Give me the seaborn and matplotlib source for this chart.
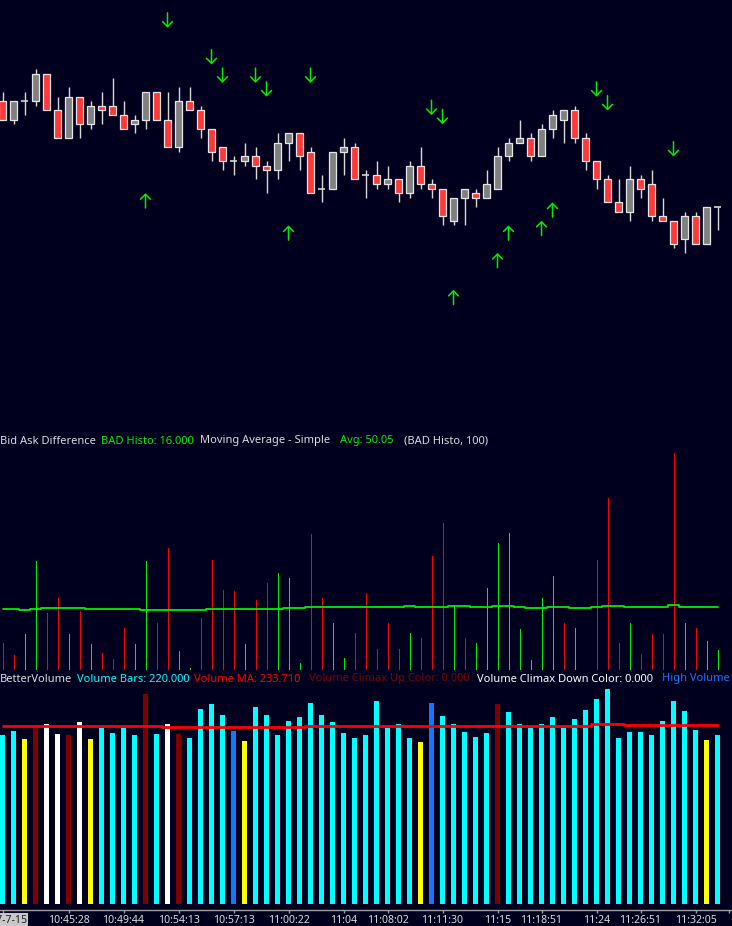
import numpy as np
import pandas as pd
import matplotlib
matplotlib.use('Agg')
import matplotlib.pyplot as plt
from matplotlib.patches import Rectangle
import seaborn as sns

# ---- price bars (0.25 tick) ----
opens = [2454.5, 2453.5, 2454.5, 2454.5, 2456.0, 2454.0, 2452.5, 2454.75, 2453.25, 2454.25,
         2454.25, 2453.75, 2453.25, 2453.5, 2455.0, 2453.5, 2452.0, 2454.5, 2454.0, 2453.0,
         2452.0, 2451.25, 2451.25, 2451.5, 2451.0, 2450.75, 2452.25, 2452.75, 2451.75, 2449.75,
         2449.75, 2451.75, 2452.0, 2450.5, 2450.5, 2450.0, 2450.25, 2449.5, 2451.0, 2450.0,
         2449.75, 2448.0, 2449.25, 2449.5, 2449.25, 2449.75, 2451.5, 2452.25, 2452.5, 2451.5,
         2453.0, 2453.5, 2454.0, 2452.5, 2451.25, 2450.25, 2449.0, 2448.5, 2450.25, 2450.0,
         2448.25, 2448.0, 2447.0, 2448.25, 2446.75, 2448.75]
highs = [2455.0, 2454.5, 2455.0, 2456.25, 2456.0, 2454.75, 2455.25, 2454.75, 2454.5, 2455.0,
         2455.75, 2454.5, 2453.75, 2455.0, 2455.0, 2455.0, 2455.25, 2455.25, 2454.25, 2453.0,
         2452.0, 2451.5, 2452.25, 2452.0, 2451.25, 2452.75, 2452.75, 2452.75, 2452.0, 2450.5,
         2451.75, 2452.5, 2452.25, 2450.75, 2451.25, 2451.0, 2450.25, 2451.25, 2452.0, 2450.25,
         2449.75, 2449.25, 2449.75, 2449.75, 2450.75, 2452.0, 2452.5, 2453.5, 2452.75, 2453.25,
         2454.0, 2454.0, 2454.25, 2452.75, 2451.25, 2450.5, 2450.25, 2451.0, 2450.5, 2450.75,
         2449.25, 2448.0, 2448.5, 2448.5, 2448.75, 2448.75]
lows = [2453.5, 2453.25, 2453.75, 2454.25, 2454.0, 2452.5, 2452.5, 2452.5, 2453.0, 2453.25,
        2453.75, 2453.0, 2452.75, 2453.0, 2453.5, 2452.0, 2451.75, 2454.0, 2452.5, 2451.25,
        2450.75, 2450.5, 2451.0, 2450.25, 2449.5, 2450.25, 2451.25, 2450.75, 2449.5, 2449.0,
        2449.75, 2450.5, 2450.25, 2449.25, 2449.75, 2449.75, 2449.0, 2449.25, 2449.75, 2449.25,
        2447.75, 2447.75, 2447.75, 2448.75, 2449.25, 2449.75, 2451.25, 2452.25, 2451.25, 2451.5,
        2452.5, 2452.25, 2452.25, 2450.75, 2449.75, 2449.0, 2448.5, 2448.0, 2449.25, 2448.0,
        2448.0, 2446.5, 2446.25, 2446.75, 2446.75, 2447.5]
closes = [2453.5, 2454.5, 2454.5, 2456.0, 2454.0, 2452.5, 2454.75, 2453.25, 2454.25, 2454.0,
          2453.75, 2453.0, 2453.5, 2455.0, 2453.5, 2452.0, 2454.5, 2454.0, 2453.0, 2451.75,
          2451.25, 2451.25, 2451.5, 2451.0, 2450.75, 2452.25, 2452.75, 2451.5, 2449.5, 2449.75,
          2451.75, 2452.0, 2450.25, 2450.5, 2450.0, 2450.25, 2449.5, 2451.0, 2450.0, 2449.75,
          2448.25, 2449.25, 2449.75, 2449.25, 2450.0, 2451.5, 2452.25, 2452.5, 2451.5, 2453.0,
          2453.75, 2454.0, 2452.5, 2451.25, 2450.25, 2449.0, 2448.5, 2450.25, 2449.75, 2448.25,
          2448.0, 2446.75, 2448.25, 2446.75, 2448.75, 2448.75]

# signal arrows: bar index + tip price
down_idx = [15, 19, 20, 23, 24, 28, 39, 40, 54, 55, 61]
down_tip = [2458.5, 2456.5, 2455.5, 2455.5, 2454.75, 2455.5, 2453.75, 2453.25, 2454.75, 2454.0, 2451.5]
up_idx = [13, 26, 41, 45, 46, 49, 50]
up_tip = [2449.5, 2447.75, 2444.25, 2446.25, 2447.75, 2448.0, 2449.0]

# ---- bid ask difference (negative = red) ----
bad = [-22, -12, 29, 87, -46, -58, 29, -47, 21, -14,
       -9, -34, 21, 87, -38, -98, 15, 2, -42, -88,
       -64, -63, 21, -56, -70, 78, 74, 6, -109, -58,
       38, 10, -30, -62, -17, -38, -17, 30, -26, -91,
       -118, 52, -26, 22, 66, 102, 110, 33, 8, 58,
       75, -38, 34, 0, -88, -138, -22, 38, -13, -29,
       -29, -174, 38, -34, 23, 16]
bad_ma = [48.5, 48.5, 47.7, 48.5, 49.3, 49.3, 49.3, 49.3, 48.5, 48.5,
          48.5, 48.5, 48.5, 47.7, 47.7, 47.7, 47.7, 47.7, 47.7, 48.5,
          48.5, 48.5, 48.5, 48.5, 48.5, 48.5, 49.3, 49.3, 50.1, 50.1,
          50.1, 50.1, 50.1, 50.1, 50.1, 50.1, 50.1, 51.2, 50.1, 50.1,
          50.1, 51.2, 51.2, 50.1, 50.1, 51.2, 51.2, 50.1, 49.3, 49.3,
          50.1, 50.1, 49.3, 49.3, 50.1, 51.2, 51.2, 50.1, 50.1, 50.1,
          50.1, 51.8, 50.05, 50.05, 50.05, 50.05]

# ---- better volume ----
vol = [220, 225, 215, 229, 234, 221, 220, 237, 215, 229,
       223, 229, 220, 273, 221, 234, 221, 216, 254, 260,
       246, 225, 212, 257, 246, 220, 238, 244, 262, 246,
       237, 223, 216, 220, 264, 229, 234, 216, 211, 262,
       245, 234, 224, 218, 223, 260, 250, 234, 229, 234,
       244, 229, 241, 253, 267, 280, 216, 224, 224, 220,
       238, 264, 251, 227, 214, 220]
# n = normal, l = low, u = climax up, d = climax down, h = high volume
vol_kind = ['n', 'n', 'l', 'u', 'd', 'd', 'u', 'd', 'l', 'n',
            'n', 'n', 'n', 'u', 'n', 'd', 'u', 'n', 'n', 'n',
            'n', 'h', 'l', 'n', 'n', 'n', 'n', 'n', 'n', 'n',
            'n', 'n', 'n', 'n', 'n', 'n', 'n', 'n', 'l', 'h',
            'n', 'n', 'n', 'n', 'n', 'u', 'n', 'n', 'n', 'n',
            'n', 'n', 'n', 'n', 'n', 'n', 'n', 'n', 'n', 'n',
            'n', 'n', 'n', 'n', 'l', 'n']
vol_ma = [232.0] * 15 + [230.5] * 13 + [232.0] * 26 + [234.5] * 3 + [233.0] * 3 + [233.71] * 6

tick_idx = [0, 6, 11, 16, 21, 26, 31, 35, 40, 45, 49, 54, 58, 63, 66]
tick_lbl = ['2017-7-15', '10:45:28', '10:49:44', '10:54:13', '10:57:13', '11:00:22', '11:04',
            '11:08:02', '11:11:30', '11:15', '11:18:51', '11:24', '11:26:51', '11:32:05', '']

BG = '#00001E'
TXT = '#DCDCDC'
GREEN = '#00EE00'
vol_palette = {'n': '#00FFFF', 'l': '#FFFF00', 'u': '#800000', 'd': '#FFFFFF', 'h': '#1478FF'}

sns.set_style('dark', {'axes.facecolor': BG, 'figure.facecolor': BG})
plt.rcParams['font.family'] = ['Noto Sans', 'DejaVu Sans']

W, H = 732.0, 926.0
fig = plt.figure(figsize=(W / 100, H / 100), dpi=100)


def frame(top, bottom):
    return [0, 1 - bottom / H, 1, (bottom - top) / H]


ax_p = fig.add_axes(frame(0, 432))
ax_b = fig.add_axes(frame(450, 670))
ax_v = fig.add_axes(frame(686, 910))
xlim = (-2.5 / 11, 729.5 / 11)

# ---- candles ----
n = len(opens)
idx = np.arange(n)
ax_p.vlines(idx, lows, highs, color='#D8D8D8', lw=1, zorder=1)
for k in range(n):
    o, c = opens[k], closes[k]
    if c == o:
        ax_p.hlines(o, k - 0.32, k + 0.32, color='#D8D8D8', lw=1.2, zorder=2)
        continue
    fc = '#808080' if c > o else '#FF3838'
    ax_p.add_patch(Rectangle((k - 0.28, min(o, c)), 0.56, abs(c - o), facecolor=fc,
                             edgecolor='#E6E6E6', lw=0.9, zorder=2))

arrow = dict(arrowstyle='->,head_length=0.45,head_width=0.45', color=GREEN, lw=1.1,
             shrinkA=0, shrinkB=0, mutation_scale=8)
for k, p in zip(down_idx, down_tip):
    ax_p.annotate('', xy=(k, p), xytext=(0, 10.6), textcoords='offset points', arrowprops=arrow)
for k, p in zip(up_idx, up_tip):
    ax_p.annotate('', xy=(k, p), xytext=(0, -10.6), textcoords='offset points', arrowprops=arrow)
ax_p.set_ylim(2460 - 432 / 18.4, 2460)

# ---- bid ask histogram ----
bad_df = pd.DataFrame({'i': idx, 'v': np.abs(bad),
                       'c': ['#FF0000' if b < 0 else GREEN for b in bad]})
ax_b.vlines(bad_df['i'], 0, bad_df['v'], colors=bad_df['c'], lw=0.72, antialiased=False)
sns.lineplot(x=idx, y=bad_ma, ax=ax_b, color=GREEN, lw=1.3, drawstyle='steps-mid')
ax_b.set_ylim(0, 176)

# ---- volume ----
vol_df = pd.DataFrame({'i': idx, 'v': vol, 'kind': vol_kind})
sns.barplot(data=vol_df, x='i', y='v', hue='kind', palette=vol_palette, dodge=False,
            width=0.42, saturation=1, errorbar=None, legend=False, linewidth=0, ax=ax_v)
sns.lineplot(x=idx, y=vol_ma, ax=ax_v, color='#FF0000', lw=2, drawstyle='steps-mid')
ax_v.set_ylim(-7.4, 283.8)

for ax in (ax_p, ax_b, ax_v):
    ax.set_xlim(*xlim)
    ax.set_facecolor(BG)
    ax.grid(False)
    ax.set_xlabel('')
    ax.set_ylabel('')
    ax.set_yticks([])
    for s in ax.spines.values():
        s.set_visible(False)
ax_p.set_xticks([])
ax_b.set_xticks([])

# font size fitted to the platform's header width
r = fig.canvas.get_renderer()
probe = fig.text(0, 0, 'Bid Ask Difference', fontsize=10)
fs = 10 * 95 / probe.get_window_extent(r).width
probe.remove()

ax_v.spines['bottom'].set_visible(True)
ax_v.spines['bottom'].set_color('#A0A0A0')
ax_v.spines['bottom'].set_linewidth(1)
ax_v.set_xticks(tick_idx, tick_lbl)
ax_v.tick_params(axis='x', bottom=True, direction='out', length=2.5, width=1, color='#A0A0A0',
                 labelcolor=TXT, labelsize=fs * 0.95, pad=0.8)
first = ax_v.get_xticklabels()[0]
first.set_color('#202020')
first.set_bbox(dict(facecolor='#C8C8C8', edgecolor='none', pad=1.0))


def header(y, parts):
    for x, s, col in parts:
        fig.text(x / W, 1 - y / H, s, color=col, fontsize=fs, ha='left', va='center')


header(441, [(0, 'Bid Ask Difference', TXT),
             (101, f'BAD Histo: {abs(bad[-1]):.3f}', GREEN),
             (200.5, 'Moving Average - Simple', TXT),
             (340, f'Avg: {bad_ma[-1]:.2f}', GREEN),
             (404, '(BAD Histo, 100)', TXT)])
header(679, [(0, 'BetterVolume', TXT),
             (77, f'Volume Bars: {vol[-1]:.3f}', '#00FFFF'),
             (193.7, f'Volume MA: {vol_ma[-1]:.3f}', '#FF0000'),
             (308.6, 'Volume Climax Up Color: 0.000', '#800000'),
             (477, 'Volume Climax Down Color: 0.000', '#FFFFFF'),
             (662, 'High Volume', '#1478FF')])

fig.savefig('out.png', dpi=100, facecolor=BG)
